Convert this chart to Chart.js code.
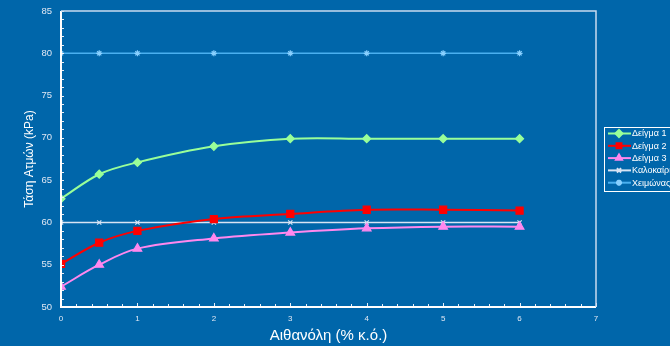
<!DOCTYPE html>
<html><head><meta charset="utf-8">
<script src="https://cdn.jsdelivr.net/npm/chart.js@4.4.0/dist/chart.umd.min.js"></script>
<style>html,body{margin:0;padding:0;background:#0066aa;}#wrap{width:670px;height:346px;}</style>
</head><body><div id="wrap"><canvas id="c" width="670" height="346"></canvas></div>
<script>
const xValues = [0, 0.5, 1, 2, 3, 4, 5, 6];
const sample1 = [62.8, 65.7, 67.1, 69.0, 69.9, 69.9, 69.9, 69.9];
const sample2 = [55.1, 57.6, 59.0, 60.4, 61.0, 61.5, 61.5, 61.4];
const sample3 = [52.4, 55.0, 56.9, 58.1, 58.8, 59.3, 59.5, 59.5];
const summer = [60, 60, 60, 60, 60, 60, 60, 60];
const winter = [80, 80, 80, 80, 80, 80, 80, 80];
const seriesNames = ['Δείγμα 1', 'Δείγμα 2', 'Δείγμα 3', 'Καλοκαίρι', 'Χειμώνας'];
const xTitle = 'Αιθανόλη (% κ.ό.)';
const yTitle = 'Τάση Ατμών (kPa)';

const pts = arr => arr.map((v, i) => ({x: xValues[i], y: v}));
const styles = [
  {c: '#99ff99', p: 'rectRot', r: 4, t: 0.35},
  {c: '#ff0000', p: 'rect', r: 5, t: 0.35},
  {c: '#ff88ee', p: 'triangle', r: 5, t: 0.35},
  {c: '#d8e4f4', p: 'crossRot', r: 3, t: 0},
  {c: '#4ab0f0', p: 'star', r: 3, t: 0}
];
const series = [sample1, sample2, sample3, summer, winter];
const datasets = series.map((s, i) => ({
  label: seriesNames[i], data: pts(s), borderColor: styles[i].c, backgroundColor: styles[i].c,
  pointStyle: styles[i].p, pointRadius: styles[i].r, pointBorderColor: i===4 ? '#88d0ff' : styles[i].c,
  pointBackgroundColor: styles[i].c, borderWidth: i>=3 ? 1.5 : 2, tension: styles[i].t,
  cubicInterpolationMode: 'default', pointBorderWidth: 1.2
}));

const tickPlugin = {
  id: 'inTicks',
  afterDatasetsDraw(chart) {
    const ctx = chart.ctx, a = chart.chartArea, xs = chart.scales.x, ys = chart.scales.y;
    ctx.save();
    ctx.strokeStyle = '#e8eef8'; ctx.lineWidth = 1;
    ctx.beginPath();
    for (let v = 50; v <= 85; v += 1) {
      const y = Math.round(ys.getPixelForValue(v)) + 0.5;
      ctx.moveTo(a.left, y); ctx.lineTo(a.left + 3, y);
    }
    for (let k = 0; k <= 35; k++) {
      const x = Math.round(xs.getPixelForValue(k * 0.2)) + 0.5;
      ctx.moveTo(x, a.bottom); ctx.lineTo(x, a.bottom - (k % 5 === 0 ? 4 : 3));
    }
    ctx.stroke();
    ctx.lineWidth = 2; ctx.strokeStyle = '#ffffff';
    ctx.beginPath(); ctx.moveTo(a.left, a.top); ctx.lineTo(a.left, a.bottom); ctx.lineTo(a.right, a.bottom); ctx.stroke();
    ctx.lineWidth = 1.5; ctx.strokeStyle = '#c8daf0';
    ctx.beginPath(); ctx.moveTo(a.left, a.top); ctx.lineTo(a.right, a.top); ctx.lineTo(a.right, a.bottom); ctx.stroke();
    // legend
    const lx = 604, ly = 127, lh = 12.3;
    ctx.lineWidth = 1; ctx.strokeStyle = '#ffffff';
    ctx.strokeRect(lx + 0.5, ly + 0.5, 80, 64);
    ctx.font = '9px "Liberation Sans", Arial, sans-serif';
    ctx.textBaseline = 'middle'; ctx.textAlign = 'left';
    chart.data.datasets.forEach((d, i) => {
      const y = ly + 6.5 + i * lh;
      ctx.strokeStyle = d.borderColor; ctx.lineWidth = 2;
      ctx.beginPath(); ctx.moveTo(lx + 4, y); ctx.lineTo(lx + 27, y); ctx.stroke();
      ctx.fillStyle = d.pointBackgroundColor; ctx.strokeStyle = d.pointBorderColor;
      Chart.helpers.drawPoint(ctx, {pointStyle: d.pointStyle, radius: Math.min(d.pointRadius, 3.5), borderWidth: 1, rotation: 0}, lx + 15, y);
      ctx.fillStyle = '#ffffff';
      ctx.fillText(d.label, lx + 28, y + 0.5);
    });
    ctx.restore();
  }
};

new Chart(document.getElementById('c'), {
  type: 'line',
  data: {datasets},
  options: {
    responsive: false, animation: false, devicePixelRatio: 1,
    layout: {padding: {left: 0, top: 11, right: 74, bottom: 0}},
    plugins: {legend: {display: false}, tooltip: {enabled: false}},
    scales: {
      x: {type: 'linear', min: 0, max: 7,
        afterFit(s) { s.height = 39; s.paddingLeft = 0; s.paddingRight = 0; },
        grid: {display: false, drawTicks: false}, border: {display: false},
        ticks: {stepSize: 1, color: '#e0e8f4', font: {size: 8, family: '"Liberation Sans", Arial'}, padding: 7, maxRotation: 0},
        title: {display: true, text: xTitle, color: '#ffffff', font: {size: 15, family: '"Liberation Sans", Arial'}, padding: {top: 2, bottom: 1}}},
      y: {type: 'linear', min: 50, max: 85,
        afterFit(s) { s.width = 61; s.paddingTop = 0; s.paddingBottom = 0; },
        grid: {display: false, drawTicks: false}, border: {display: false},
        ticks: {stepSize: 5, color: '#e0e8f4', font: {size: 9.5, family: '"Liberation Sans", Arial'}, padding: 9},
        title: {display: true, text: yTitle, color: '#ffffff', font: {size: 12, family: '"Liberation Sans", Arial'}, padding: {top: 22, bottom: 0}}}
    }
  },
  plugins: [tickPlugin]
});
</script></body></html>
